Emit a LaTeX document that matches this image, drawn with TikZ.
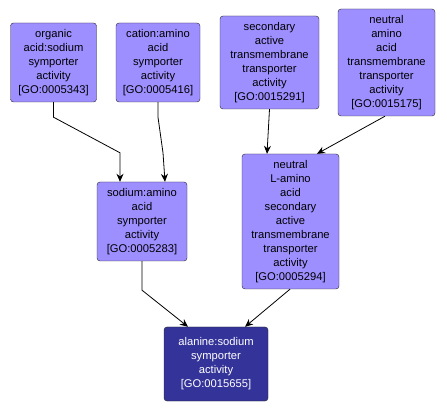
\documentclass[tikz,border=0pt]{standalone}
\usepackage{fontspec}
\setmainfont{Liberation Sans}
\usetikzlibrary{arrows.meta, calc}
\definecolor{termfill}{HTML}{9D8FFF}
\definecolor{focusfill}{HTML}{333399}
\tikzset{
  term/.style={draw=black!85, fill=termfill, rounded corners=3pt, align=center,
    inner sep=0pt, font=\fontsize{11.2}{14}\selectfont},
  focus/.style={term, fill=focusfill, text=white},
  edge/.style={black, line width=0.8pt, -{Stealth[length=8pt, width=7pt]}},
}
\begin{document}
\begin{tikzpicture}[x=1pt, y=-1pt]
\useasboundingbox (0,0) rectangle (447,411);
% Top row: parent terms
\node[term, minimum width=86pt, minimum height=79pt] (organic) at (53.5, 62.5)
  {organic\\acid:sodium\\symporter\\activity\\{[GO:0005343]}};
\node[term, minimum width=84pt, minimum height=79pt] (cation) at (158, 62.5)
  {cation:amino\\acid\\symporter\\activity\\{[GO:0005416]}};
\node[term, minimum width=99pt, minimum height=93pt] (secondary) at (269.5, 62.5)
  {secondary\\active\\transmembrane\\transporter\\activity\\{[GO:0015291]}};
\node[term, minimum width=97pt, minimum height=107pt] (neutral) at (386.5, 62.5)
  {neutral\\amino\\acid\\transmembrane\\transporter\\activity\\{[GO:0015175]}};
% Middle row
\node[term, minimum width=90pt, minimum height=79pt] (sodium) at (142, 221.5)
  {sodium:amino\\acid\\symporter\\activity\\{[GO:0005283]}};
\node[term, minimum width=97pt, minimum height=135pt] (lamino) at (290.5, 221.5)
  {neutral\\L-amino\\acid\\secondary\\active\\transmembrane\\transporter\\activity\\{[GO:0005294]}};
% Bottom: the term itself
\node[focus, minimum width=104pt, minimum height=74pt] (alanine) at (216, 364)
  {alanine:sodium\\symporter\\activity\\{[GO:0015655]}};
% Edges
\draw[edge] (organic.south) -- ++(0,15) -- ($(sodium.north)+(-22,-29)$) -- ($(sodium.north)+(-22,0)$);
\draw[edge] (cation.south) -- ++(0,15) -- ($(sodium.north)+(21,-29)$) -- ($(sodium.north)+(23,0)$);
\draw[edge] (secondary.south) -- ($(lamino.north)+(-23.5,0)$);
\draw[edge] ($(neutral.south)+(-1.5,0)$) -- ($(lamino.north)+(26.5,0)$);
\draw[edge] (sodium.south) -- ++(0,29) -- ($(alanine.north)+(-28,0)$);
\draw[edge] ($(lamino.south)+(-0.5,0)$) -- ($(alanine.north)+(29,0)$);
\end{tikzpicture}
\end{document}
